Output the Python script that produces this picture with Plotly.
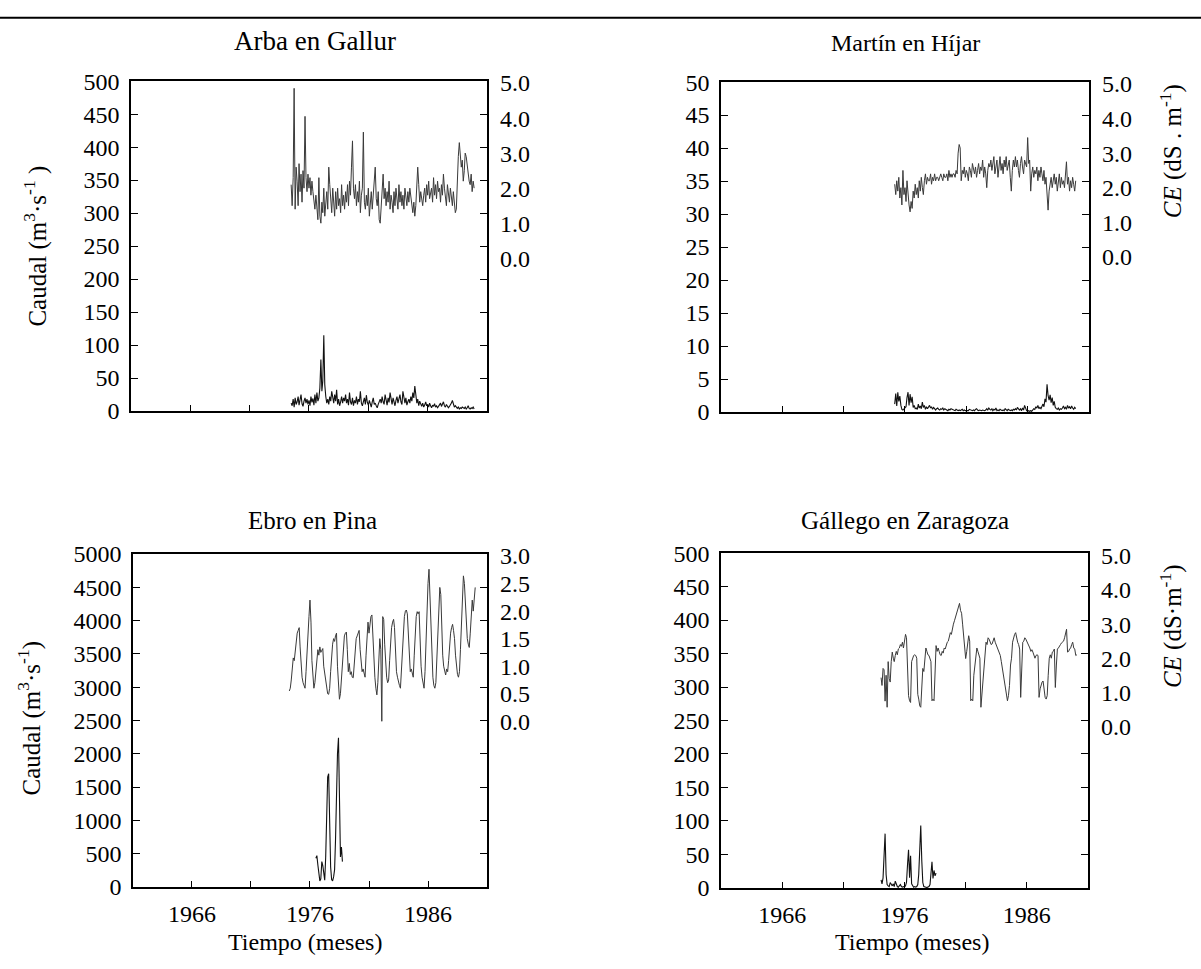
import pandas as pd
import plotly.graph_objects as go

# ---------------- data (monthly series) ----------------
# Arba en Gallur
arba_start = "1974-07-01"
arba_ce = [
    2.1, 1.5, 2.3, 4.85, 1.4, 2.6,
    2.2, 1.5, 2.7, 1.9, 2.4, 1.6, 2.5, 2.0, 4.05, 2.3, 1.9, 2.4,
    2.0, 2.3, 1.8, 2.2, 1.9, 1.5, 1.4, 1.8, 1.3, 1.1, 2.3, 1.2,
    1.0, 1.6, 1.3, 2.0, 1.2, 1.5, 1.9, 1.4, 2.6, 2.1, 1.7, 1.3,
    2.0, 1.6, 1.2, 1.9, 1.4, 2.0, 1.5, 1.7, 1.3, 2.1, 1.5, 1.8,
    1.4, 1.9, 1.6, 2.1, 1.5, 2.2, 1.8, 2.6, 3.35, 2.0, 1.7, 2.1,
    1.5, 1.9, 1.6, 2.2, 1.3, 1.8, 2.0, 3.6, 1.6, 1.4, 1.8, 1.5,
    2.0, 1.2, 1.6, 1.9, 1.4, 1.8, 2.2, 2.6, 1.7, 1.5, 1.9, 1.1,
    1.0, 1.6, 2.1, 2.4, 1.7, 2.0, 1.5, 1.9, 1.6, 2.2, 1.4, 1.8,
    1.6, 1.3, 1.9, 1.5, 2.0, 1.7, 1.4, 2.1, 1.6, 1.9, 1.5, 1.8,
    1.4, 2.0, 1.7, 1.5, 1.9, 1.6, 2.0, 1.7, 1.5, 1.3, 1.6, 1.2,
    1.5, 2.0, 2.6, 2.1, 1.6, 1.9, 1.7, 1.5, 1.8, 2.0, 1.6, 2.1,
    1.8, 2.2, 1.7, 1.9, 2.0, 1.6, 2.3, 1.8, 2.1, 1.7, 2.2, 1.9,
    2.0, 1.6, 2.1, 1.8, 2.4, 2.0, 1.7, 1.5, 2.1, 1.8, 1.6, 2.0,
    1.7, 1.5, 1.9, 1.6, 1.3, 1.4, 2.4, 2.9, 3.3, 3.0, 2.6, 2.8,
    2.2, 2.5, 3.0, 2.9, 2.6, 2.4, 2.2, 2.1, 2.4, 1.9, 2.2, 2.0,
]
arba_q = [
    12, 8, 18, 6, 20, 10,
    14, 22, 9, 16, 25, 11, 7, 15, 20, 12, 18, 10,
    16, 8, 22, 13, 19, 9, 25, 12, 28, 15, 20, 35,
    78, 30, 45, 115, 40, 22, 12, 18, 10, 22, 15, 30,
    20, 12, 25, 15, 32, 10, 18, 8, 14, 22, 12, 20,
    15, 25, 12, 18, 9, 28, 14, 10, 20, 8, 16, 12,
    22, 10, 18, 14, 30, 12, 8, 15, 20, 10, 24, 13,
    9, 16, 12, 6, 14, 20, 10, 12, 8, 5, 10, 15,
    18, 12, 22, 14, 10, 25, 16, 9, 20, 13, 28, 15,
    10, 20, 14, 8, 16, 22, 12, 18, 25, 14, 10, 30,
    16, 12, 20, 9, 14, 18, 12, 22, 15, 28, 20, 38,
    25, 12, 18, 8, 15, 10, 7, 12, 6, 9, 14, 8,
    10, 6, 12, 8, 5, 9, 7, 11, 6, 8, 5, 7,
    9, 12, 7, 10, 14, 8, 6, 10, 8, 5, 7, 9,
    12, 16, 10, 6, 8, 5, 4, 6, 3, 5, 4, 6,
    5, 4, 6, 3, 5, 8, 4, 3, 5, 4, 6, 3,
]

# Martín en Híjar
martin_start = "1975-03-01"
martin_ce = [
    2.1, 1.8, 2.2, 1.9, 2.3, 1.7, 2.0, 1.5, 2.5, 1.8,
    2.0, 1.6, 2.2, 1.7, 1.5, 1.3, 1.6, 1.4, 1.9, 1.7, 2.1, 1.8,
    2.0, 1.7, 2.2, 1.9, 2.3, 2.0, 1.8, 2.2, 2.4, 2.1, 2.3, 2.2,
    2.2, 2.4, 2.1, 2.3, 2.2, 2.4, 2.2, 2.3, 2.3, 2.2, 2.3, 2.4,
    2.3, 2.2, 2.4, 2.3, 2.3, 2.4, 2.2, 2.5, 2.3, 2.4, 2.3, 2.4,
    2.4, 2.3, 2.5, 2.4, 3.0, 3.25, 3.15, 2.2, 2.5, 2.4, 2.6, 2.3,
    2.5, 2.4, 2.2, 2.6, 2.5, 2.3, 2.7, 2.5, 2.4, 2.6, 2.3, 2.5,
    2.7, 2.4, 2.6, 2.5, 2.8, 2.3, 2.6, 2.4, 2.0, 2.5, 2.7, 2.6,
    2.8, 2.5, 2.7, 2.9, 2.4, 2.6, 2.8, 2.3, 2.7, 2.9, 2.5, 2.7,
    2.4, 2.8, 2.6, 2.9, 2.5, 2.7, 2.8, 2.3, 1.9, 2.5, 2.8, 2.6,
    2.9, 2.6, 2.8, 2.5, 2.3, 2.7, 2.9, 2.6, 2.4, 2.8, 2.7, 2.6,
    3.45, 2.7, 2.8, 1.9, 2.4, 2.6, 2.3, 2.5, 2.4, 2.6, 2.2, 2.5,
    2.3, 2.6, 2.4, 2.2, 2.5, 2.1, 2.3, 1.9, 1.35, 1.9, 2.1, 2.3,
    2.0, 2.2, 2.4, 2.1, 2.3, 1.9, 2.2, 2.4, 2.0, 2.3, 2.1, 2.2,
    2.0, 2.4, 2.75, 2.1, 2.3, 1.9, 2.2, 2.0, 2.3, 2.1, 1.9, 2.2,
]
martin_q = [
    1.2, 2.8, 0.9, 3.0, 1.6, 2.4, 1.0, 0.4, 0.3, 0.5,
    0.6, 0.8, 2.2, 3.0, 1.0, 2.7, 1.4, 2.3, 0.7, 1.0, 0.5, 0.6,
    0.4, 1.2, 0.6, 0.9, 0.5, 1.5, 0.7, 1.0, 0.4, 0.8, 0.5, 0.7,
    1.0, 0.6, 0.8, 0.4, 0.7, 0.5, 0.3, 0.5, 0.6, 0.4, 0.3, 0.5,
    0.4, 0.6, 0.3, 0.5, 0.4, 0.3, 0.2, 0.4, 0.3, 0.5, 0.4, 0.3,
    0.3, 0.2, 0.4, 0.3, 0.2, 0.3, 0.2, 0.3, 0.4, 0.2, 0.3, 0.2,
    0.2, 0.3, 0.2, 0.4, 0.3, 0.2, 0.2, 0.3, 0.2, 0.4, 0.5, 0.3,
    0.2, 0.3, 0.2, 0.2, 0.3, 0.2, 0.2, 0.3, 0.5, 0.3, 0.6, 0.4,
    0.3, 0.5, 0.2, 0.4, 0.3, 0.6, 0.2, 0.3, 0.2, 0.4, 0.3, 0.2,
    0.3, 0.2, 0.5, 0.3, 0.2, 0.4, 0.3, 0.2, 0.3, 0.2, 0.4, 0.3,
    0.5, 0.3, 0.7, 0.4, 0.3, 0.5, 0.2, 0.6, 0.3, 1.0, 0.4, 0.2,
    0.1, 0.2, 0.1, 0.2, 0.1, 0.3, 0.5, 0.4, 0.8, 0.6, 1.0, 0.5,
    0.7, 0.5, 0.9, 1.2, 0.8, 2.0, 1.5, 4.2, 2.5, 1.8, 2.6, 1.4,
    2.2, 1.0, 1.6, 0.7, 0.5, 0.4, 0.6, 0.3, 0.5, 0.4, 0.6, 0.9,
    0.5, 0.7, 0.4, 1.0, 0.6, 0.8, 0.5, 0.9, 0.6, 0.4, 0.7, 0.5,
]

# Ebro en Pina
ebro_ce_start = "1974-04-01"
ebro_ce = [
    0.55, 0.6, 0.75, 0.9, 1.15, 1.1, 1.3, 1.45, 1.6,
    1.65, 1.7, 1.35, 1.0, 0.8, 0.7, 0.65, 0.6, 0.9, 1.3, 1.6, 1.9,
    2.2, 1.8, 1.1, 0.75, 0.6, 0.7, 0.95, 1.1, 1.3, 1.2, 1.35, 1.25,
    1.3, 1.32, 1.0, 0.85, 0.7, 0.55, 0.5, 0.49, 0.6, 0.9, 1.2, 1.4,
    1.5, 1.45, 1.55, 1.6, 1.0, 0.6, 0.4, 0.5, 0.8, 1.1, 1.4, 1.55,
    1.6, 1.62, 1.3, 0.9, 1.05, 0.85, 0.9, 0.8, 0.79, 1.0, 1.35, 1.5,
    1.55, 1.6, 1.65, 1.3, 1.1, 0.9, 0.95, 0.85, 0.8, 1.2, 1.6, 1.8,
    1.6, 1.8, 1.9, 1.93, 1.5, 1.1, 0.8, 0.6, 0.48, 0.7, 1.2, 1.5,
    1.3, 0.0, 1.9, 1.85, 1.4, 1.0, 0.8, 0.7, 0.75, 1.1, 1.5, 1.7,
    1.8, 1.85, 1.7, 1.2, 0.9, 0.8, 0.7, 0.65, 0.6, 0.9, 1.3, 1.7,
    1.9, 2.0, 2.02, 1.95, 1.5, 1.1, 0.9, 0.95, 0.85, 0.8, 1.2, 1.6,
    1.9, 1.99, 1.95, 1.99, 1.4, 1.0, 0.8, 0.65, 0.6, 0.9, 1.5, 2.1,
    2.5, 2.76, 2.2, 1.6, 1.1, 0.8, 0.65, 0.6, 0.7, 1.2, 1.8, 2.2,
    2.43, 2.3, 1.7, 1.2, 1.0, 0.9, 0.84, 0.95, 0.9, 1.1, 1.4, 1.6,
    1.7, 1.76, 1.65, 1.5, 1.2, 1.0, 0.85, 0.8, 0.9, 1.3, 1.9, 2.3,
    2.64, 2.5, 2.2, 1.8, 1.5, 1.4, 1.34, 1.6, 1.9, 2.2, 2.0, 2.3,
    2.43,
]
ebro_q_start = "1976-07-01"
ebro_q = [
    430, 470, 330, 150, 90, 120,
    380, 320, 150, 100, 450, 1100, 1650, 1700, 900, 300, 110, 90,
    150, 260, 700, 1400, 2000, 2240, 1100, 450, 600, 380,
]

# Gállego en Zaragoza
gallego_start = "1974-02-01"
gallego_ce = [
    1.43, 1.2, 1.7, 1.66, 0.74, 1.5, 0.56, 1.9, 1.4, 1.3, 1.9,
    2.18, 2.0, 1.9, 2.08, 2.2, 2.1, 2.27, 2.3, 2.4, 2.35, 2.47, 2.3,
    2.5, 2.7, 2.6, 1.8, 0.9, 0.75, 0.7, 1.9, 2.0, 2.08, 2.1, 2.08,
    2.0, 0.94, 0.8, 0.6, 0.56, 1.2, 1.7, 1.61, 2.0, 2.3, 2.2, 2.1,
    2.08, 2.0, 1.9, 0.75, 0.8, 0.75, 1.9, 2.37, 2.2, 2.3, 2.2, 2.1,
    2.08, 2.2, 2.15, 2.3, 2.27, 2.4, 2.47, 2.5, 2.6, 2.75, 2.7, 2.9,
    3.0, 3.1, 3.2, 3.3, 3.4, 3.5, 3.61, 3.4, 3.32, 3.0, 2.66, 2.3,
    1.99, 2.2, 2.4, 2.66, 2.5, 0.75, 0.8, 0.75, 1.5, 1.8, 2.0, 2.3,
    2.2, 2.08, 2.0, 0.56, 0.9, 1.33, 1.8, 2.08, 2.47, 2.4, 2.6, 2.56,
    2.5, 2.4, 2.42, 2.5, 2.6, 2.47, 2.4, 2.3, 2.27, 2.2, 2.08, 1.9,
    1.7, 1.5, 1.3, 1.14, 1.0, 0.75, 0.9, 1.2, 1.8, 2.0, 2.47, 2.6,
    2.7, 2.75, 2.6, 2.47, 2.4, 2.27, 0.85, 1.5, 2.47, 2.5, 2.6, 2.56,
    2.5, 2.4, 2.37, 2.3, 2.2, 2.25, 2.18, 2.1, 2.0, 2.08, 2.1, 2.08,
    0.85, 1.1, 1.23, 1.3, 1.33, 1.1, 0.85, 0.8, 0.9, 1.5, 2.0, 2.1,
    2.0, 2.18, 2.2, 2.27, 1.14, 1.8, 2.27, 2.3, 2.37, 2.4, 2.45, 2.47,
    2.5, 2.6, 2.7, 2.85, 2.18, 2.2, 2.27, 2.3, 2.4, 2.47, 2.3, 2.27,
    2.08, 2.1,
]
gallego_q = [
    12, 6, 15, 40, 81, 20, 5, 3, 2, 8, 4,
    3, 6, 2, 10, 4, 2, 1, 3, 5, 2, 1, 2,
    1, 3, 8, 35, 57, 15, 48, 6, 2, 1, 2, 1,
    2, 5, 20, 70, 93, 40, 8, 2, 1, 1, 0.5, 1,
    2, 5, 20, 39, 14, 26, 18, 22,
]

# axis tick labels
left_ticks = [list(range(0, 501, 50)), list(range(0, 51, 5)),
              list(range(0, 5001, 500)), list(range(0, 501, 50))]
right_ticks = [[0, 1, 2, 3, 4, 5], [0, 1, 2, 3, 4, 5],
               [0, 0.5, 1, 1.5, 2, 2.5, 3], [0, 1, 2, 3, 4, 5]]
year_ticks = ["1966-01-01", "1976-01-01", "1986-01-01"]
year_labels = ["1966", "1976", "1986"]
titles = ["Arba en Gallur", "Martín en Híjar", "Ebro en Pina", "Gállego en Zaragoza"]

# ---------------- layout geometry (pixels) ----------------
W, H = 1201, 969
FONT = "Liberation Serif"
TICK_SIZE = 24
# left, right, top, bottom of each plot box
boxes = [(131, 487, 70, 409), (721, 1089, 71, 410),
         (133, 487, 556, 898), (721, 1088, 555, 899)]
# pixel of the top right-axis label, its value and pixels per unit
right_scale = [(72, 5.0, 36.0), (73, 5.0, 35.5), (558, 3.0, 56.6), (558, 5.0, 35.0)]

series = [
    (arba_start, arba_q, arba_start, arba_ce),
    (martin_start, martin_q, martin_start, martin_ce),
    (ebro_q_start, ebro_q, ebro_ce_start, ebro_ce),
    (gallego_start, gallego_q, gallego_start, gallego_ce),
]

fig = go.Figure()
layout = dict(
    width=W, height=H, margin=dict(l=0, r=0, t=0, b=0),
    paper_bgcolor="white", plot_bgcolor="white", showlegend=False,
    font=dict(family=FONT, size=TICK_SIZE, color="black"),
)

for i in range(4):
    n = i + 1
    l, r, t, b = boxes[i]
    q_start, q_vals, ce_start, ce_vals = series[i]
    q_dates = pd.date_range(q_start, periods=len(q_vals), freq="MS")
    ce_dates = pd.date_range(ce_start, periods=len(ce_vals), freq="MS")
    xa = "x" if n == 1 else f"x{n}"
    ya = "y" if n == 1 else f"y{n}"
    ys = f"y{n + 4}"

    fig.add_trace(go.Scatter(x=q_dates, y=q_vals, mode="lines", xaxis=xa, yaxis=ya,
                             line=dict(color="#111111", width=1.1)))
    fig.add_trace(go.Scatter(x=ce_dates, y=ce_vals, mode="lines", xaxis=xa, yaxis=ys,
                             line=dict(color="#3a3a3a", width=1)))

    bottom_row = i >= 2
    layout[f"xaxis{'' if n == 1 else n}"] = dict(
        domain=[l / W, r / W], anchor=ya, type="date",
        range=["1961-01-01", "1991-01-01"],
        tickmode="array", tickvals=year_ticks, ticktext=year_labels,
        showticklabels=bottom_row,
        ticks="inside", ticklen=6, tickwidth=1, tickcolor="black",
        minor=dict(ticks="inside", ticklen=6, tickwidth=1, tickcolor="black",
                   tick0="1961-01-01", dtick="M60", showgrid=False),
        showline=True, linecolor="black", linewidth=1.5, mirror=True,
        showgrid=False, zeroline=False, ticklabelstandoff=5,
        tickfont=dict(size=TICK_SIZE),
    )
    lt = left_ticks[i]
    layout[f"yaxis{'' if n == 1 else n}"] = dict(
        domain=[1 - b / H, 1 - t / H], anchor=xa,
        range=[0, lt[-1]], tickmode="array", tickvals=lt,
        ticks="inside", ticklen=7, tickwidth=1, tickcolor="black",
        showline=True, linecolor="black", linewidth=1.5, mirror="ticks",
        showgrid=False, zeroline=False, ticklabelstandoff=5,
        tickfont=dict(size=TICK_SIZE),
    )
    p0, v0, s = right_scale[i]
    layout[f"yaxis{n + 4}"] = dict(
        overlaying=ya, anchor=xa, side="right",
        range=[v0 - (b - p0) / s, v0 + (p0 - t) / s],
        tickmode="array", tickvals=right_ticks[i], tickformat=".1f",
        ticks="", showline=False, showgrid=False, zeroline=False,
        ticklabelstandoff=12, tickfont=dict(size=TICK_SIZE),
    )

annotations = []
# panel titles: position (px) and size
title_spec = [(315, 29, 27), (905, 31, 24), (312, 521, 25), (905, 522, 25)]
for txt, (cx, cy, fs) in zip(titles, title_spec):
    annotations.append(dict(text=txt, x=cx / W, y=1 - cy / H, xref="paper", yref="paper",
                            showarrow=False, font=dict(size=fs), xanchor="center",
                            yanchor="middle"))

side_titles = [
    ("Caudal (m<sup>3</sup>·s<sup>-1</sup> )", 36, 240),
    ("Caudal (m<sup>3</sup>·s<sup>-1</sup>)", 30, 725),
    ("<i>CE</i> (dS . m<sup>-1</sup>)", 1171, 142),
    ("<i>CE</i> (dS·m<sup>-1</sup>)", 1171, 630),
]
for txt, cx, cy in side_titles:
    annotations.append(dict(text=txt, x=cx / W, y=1 - cy / H, xref="paper", yref="paper",
                            showarrow=False, textangle=-90, font=dict(size=25),
                            xanchor="center", yanchor="middle"))

for cx in (305, 912):
    annotations.append(dict(text="Tiempo (meses)", x=cx / W, y=1 - 955 / H, xref="paper",
                            yref="paper", showarrow=False, font=dict(size=24),
                            xanchor="center", yanchor="middle"))
layout["annotations"] = annotations

# rule across the top of the page
layout["shapes"] = [dict(type="line", xref="paper", yref="paper", x0=0, x1=1,
                         y0=1 - 5 / H, y1=1 - 5 / H, line=dict(color="black", width=2))]

fig.update_layout(**layout)
fig.write_html("out.html")
